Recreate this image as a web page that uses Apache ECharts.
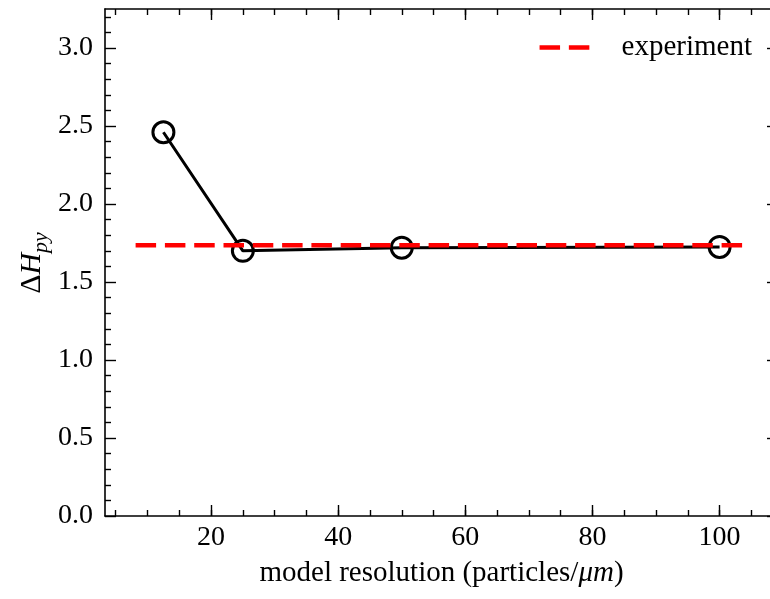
<!DOCTYPE html>
<html>
<head>
<meta charset="utf-8">
<script src="https://cdn.jsdelivr.net/npm/echarts@6/dist/echarts.min.js"></script>
<style>
  html, body { margin: 0; padding: 0; background: #ffffff; overflow: hidden; width: 770px; height: 599px; }
  /* the frame's right spine sits just past the visible edge */
  #chart { width: 778px; height: 599px; }
</style>
</head>
<body>
<div id="chart"></div>
<script>
// Convergence of the pyramid height change with model resolution
const resolution = [12.5, 25, 50, 100];           // particles per micrometre
const deltaH = [2.46, 1.70, 1.72, 1.725];         // simulated ΔH_py
const experimentX = [8.125, 104.375];             // extent of the reference line
const experimentY = [1.735, 1.735];               // measured ΔH_py

const xMajorTicks = [20, 40, 60, 80, 100];
const xMinorTicks = [5, 10, 15, 20, 25, 30, 35, 40, 45, 50, 55, 60, 65, 70, 75, 80, 85, 90, 95, 100, 105];
const yMajorTicks = [0.0, 0.5, 1.0, 1.5, 2.0, 2.5, 3.0];
const yMinorTicks = [0.1, 0.2, 0.3, 0.4, 0.6, 0.7, 0.8, 0.9, 1.1, 1.2, 1.3, 1.4, 1.6, 1.7, 1.8, 1.9,
                     2.1, 2.2, 2.3, 2.4, 2.6, 2.7, 2.8, 2.9, 3.1, 3.2];

const FONT = 'Liberation Serif';
const X_RANGE = [3.31, 109.19];
const Y_RANGE = [0, 3.25];
const MAJOR_LEN = 11, MINOR_LEN = 6;

function makeAxis(dim, position, ticks, tickLen, withLine, withLabels, extra) {
  const range = dim === 'x' ? X_RANGE : Y_RANGE;
  return Object.assign({
    type: 'value',
    position: position,
    min: range[0],
    max: range[1],
    axisLine: { show: withLine, onZero: false, lineStyle: { color: '#000', width: 1.6 } },
    axisTick: { show: true, inside: true, length: tickLen, customValues: ticks,
                lineStyle: { color: '#000', width: 1.4 } },
    axisLabel: withLabels ? {
      show: true, customValues: ticks, inside: false,
      fontFamily: FONT, fontSize: 28, color: '#000',
      margin: dim === 'x' ? 8 : 12,
      formatter: dim === 'x' ? (v => String(v)) : (v => v.toFixed(1))
    } : { show: false },
    splitLine: { show: false },
    minorTick: { show: false },
    minorSplitLine: { show: false }
  }, extra || {});
}

const chart = echarts.init(document.getElementById('chart'), null, { renderer: 'canvas' });

chart.setOption({
  animation: false,
  backgroundColor: '#ffffff',
  grid: { left: 105, right: 0, top: 9, bottom: 83, containLabel: false },
  legend: {
    data: ['experiment'],
    right: 21,
    top: 28,
    itemWidth: 58,
    itemHeight: 24,
    textStyle: { fontFamily: FONT, fontSize: 29, color: '#000', padding: [0, 0, 0, 19] },
    lineStyle: { width: 4.5, type: [20.5, 8.8], color: '#ff0000' },
    itemStyle: { opacity: 0 }
  },
  // y-axis title, rotated, with italic H and subscript py
  graphic: [{
    type: 'text',
    x: 37,
    y: 263,
    rotation: Math.PI / 2,
    style: {
      text: '{d|Δ}{h|H}{s|py}',
      align: 'center',
      verticalAlign: 'middle',
      rich: {
        d: { fontFamily: FONT, fontSize: 30, fill: '#000', verticalAlign: 'bottom', lineHeight: 30, padding: [0, 0, 5, 0] },
        h: { fontFamily: FONT, fontSize: 30, fontStyle: 'italic', fill: '#000', verticalAlign: 'bottom', lineHeight: 30, padding: [0, 0, 5, 0] },
        s: { fontFamily: FONT, fontSize: 22, fontStyle: 'italic', fill: '#000', verticalAlign: 'bottom', lineHeight: 22 }
      }
    }
  }],
  xAxis: [
    makeAxis('x', 'bottom', xMajorTicks, MAJOR_LEN, true, true, {
      name: '{t|model resolution (particles/}{m|μm}{t|)}',
      nameLocation: 'middle',
      nameGap: 43,
      nameTextStyle: {
        rich: {
          t: { fontFamily: FONT, fontSize: 29, color: '#000' },
          m: { fontFamily: FONT, fontSize: 29, fontStyle: 'italic', color: '#000' }
        }
      }
    }),
    makeAxis('x', 'bottom', xMinorTicks, MINOR_LEN, false, false),
    makeAxis('x', 'top', xMajorTicks, MAJOR_LEN, true, false),
    makeAxis('x', 'top', xMinorTicks, MINOR_LEN, false, false)
  ],
  yAxis: [
    makeAxis('y', 'left', yMajorTicks, MAJOR_LEN, true, true),
    makeAxis('y', 'left', yMinorTicks, MINOR_LEN, false, false),
    makeAxis('y', 'right', yMajorTicks, MAJOR_LEN, true, false),
    makeAxis('y', 'right', yMinorTicks, MINOR_LEN, false, false)
  ],
  series: [
    {
      name: 'simulation',
      type: 'line',
      xAxisIndex: 0,
      yAxisIndex: 0,
      data: resolution.map((x, i) => [x, deltaH[i]]),
      symbol: 'circle',
      symbolSize: 21,
      itemStyle: { color: 'none', borderColor: '#000', borderWidth: 3 },
      lineStyle: { color: '#000', width: 3 },
      emphasis: { disabled: true },
      z: 2
    },
    {
      name: 'experiment',
      type: 'line',
      xAxisIndex: 0,
      yAxisIndex: 0,
      data: experimentX.map((x, i) => [x, experimentY[i]]),
      symbol: 'none',
      lineStyle: { color: '#ff0000', width: 4.5, type: [20.5, 8.8] },
      emphasis: { disabled: true },
      z: 3
    }
  ]
});
</script>
</body>
</html>
